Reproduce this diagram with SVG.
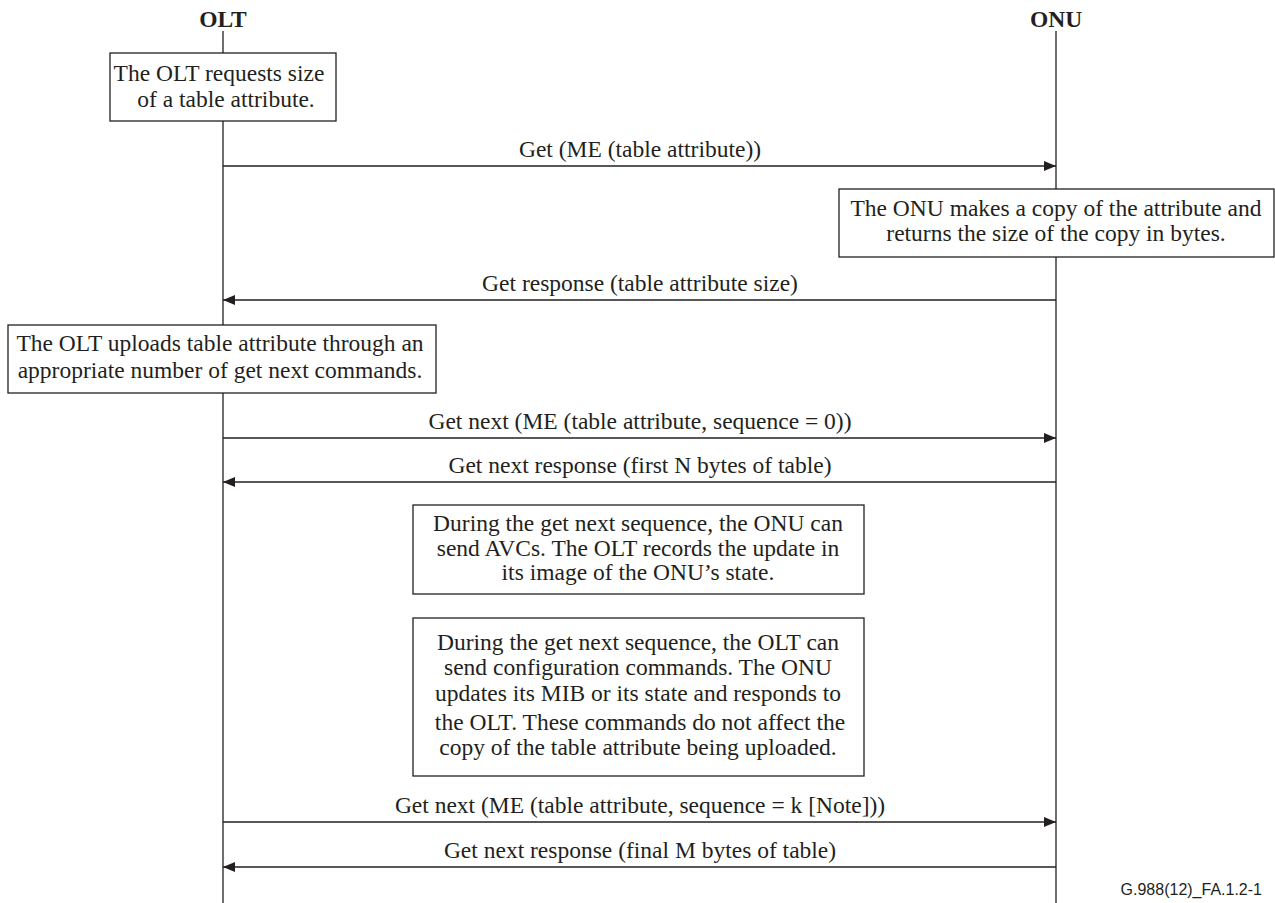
<svg xmlns="http://www.w3.org/2000/svg" width="1275" height="903" viewBox="0 0 1275 903">
<style>
.t{font-family:"Liberation Serif","Times New Roman",serif;font-size:23.5px;fill:#231f20;text-anchor:middle}
.h{font-family:"Liberation Serif","Times New Roman",serif;font-size:23.5px;font-weight:bold;fill:#231f20;text-anchor:middle}
.box{fill:#fff;stroke:#231f20;stroke-width:1.3}
.ll{stroke:#231f20;stroke-width:1.3;fill:none}
.msg{stroke:#231f20;stroke-width:1.3;fill:none;marker-end:url(#ah)}
.ref{font-family:"Liberation Sans",Arial,sans-serif;font-size:16px;fill:#231f20;text-anchor:end}
</style>
<defs>
<marker id="ah" viewBox="0 0 12 10" refX="12" refY="5" markerWidth="12" markerHeight="10" markerUnits="userSpaceOnUse" orient="auto">
<path d="M0,0 L12,5 L0,10 Z" fill="#231f20"/>
</marker>
</defs>
<rect width="1275" height="903" fill="#fff"/>
<g id="lifelines">
<text class="h" x="223" y="27">OLT</text>
<line class="ll" x1="223" y1="31" x2="223" y2="903"/>
<text class="h" x="1056" y="27">ONU</text>
<line class="ll" x1="1056" y1="31" x2="1056" y2="903"/>
</g>
<g id="connectors">
<line class="msg" x1="223" y1="166" x2="1056" y2="166"/>
<text class="t" x="640" y="157">Get (ME (table attribute))</text>
<line class="msg" x1="1056" y1="300" x2="223" y2="300"/>
<text class="t" x="640" y="291">Get response (table attribute size)</text>
<line class="msg" x1="223" y1="438" x2="1056" y2="438"/>
<text class="t" x="640" y="429">Get next (ME (table attribute, sequence = 0))</text>
<line class="msg" x1="1056" y1="482" x2="223" y2="482"/>
<text class="t" x="640" y="473">Get next response (first N bytes of table)</text>
<line class="msg" x1="223" y1="822" x2="1056" y2="822"/>
<text class="t" x="640" y="813">Get next (ME (table attribute, sequence = k [Note]))</text>
<line class="msg" x1="1056" y1="867" x2="223" y2="867"/>
<text class="t" x="640" y="858">Get next response (final M bytes of table)</text>
</g>
<g id="n1">
<rect class="box" x="110" y="53" width="226" height="68"/>
<text class="t" x="219" y="81">The OLT requests size</text>
<text class="t" x="226" y="107">of a table attribute.</text>
</g>
<g id="n2">
<rect class="box" x="839" y="189" width="435" height="68"/>
<text class="t" x="1056" y="216">The ONU makes a copy of the attribute and</text>
<text class="t" x="1056" y="241">returns the size of the copy in bytes.</text>
</g>
<g id="n3">
<rect class="box" x="8" y="325" width="428" height="68"/>
<text class="t" x="220" y="351">The OLT uploads table attribute through an</text>
<text class="t" x="220" y="378">appropriate number of get next commands.</text>
</g>
<g id="n4">
<rect class="box" x="413" y="505" width="451" height="89"/>
<text class="t" x="638" y="531">During the get next sequence, the ONU can</text>
<text class="t" x="638" y="556">send AVCs. The OLT records the update in</text>
<text class="t" x="638" y="580">its image of the ONU’s state.</text>
</g>
<g id="n5">
<rect class="box" x="413" y="618" width="451" height="158"/>
<text class="t" x="638" y="650">During the get next sequence, the OLT can</text>
<text class="t" x="638" y="675">send configuration commands. The ONU</text>
<text class="t" x="638" y="701">updates its MIB or its state and responds to</text>
<text class="t" x="640" y="730">the OLT. These commands do not affect the</text>
<text class="t" x="638" y="755">copy of the table attribute being uploaded.</text>
</g>
<text class="ref" x="1262" y="895">G.988(12)_FA.1.2-1</text>
</svg>
